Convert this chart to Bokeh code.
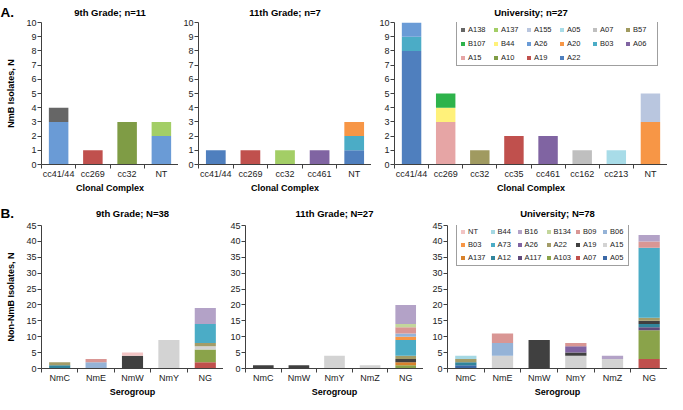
from bokeh.plotting import figure
from bokeh.models import (ColumnDataSource, Range1d, FixedTicker, Title,
                          SingleIntervalTicker, Legend, LegendItem)
from bokeh.layouts import column, row
from bokeh.embed import file_html
from bokeh.resources import INLINE

FONT = "Liberation Sans"
AXIS_COLOR = "#404040"
TEXT_COLOR = "#222222"

# ---------------- Panel A: NmB isolates by clonal complex ----------------
# stack order bottom -> top (legend shows the reverse)
a_stack = ["A22", "A19", "A10", "A15", "A06", "B03", "A20", "A26", "B44", "B107",
           "B57", "A07", "A05", "A155", "A137", "A138"]
a_colors = {"A22": "#4F7FBE", "A19": "#C0504D", "A10": "#7F9C45", "A15": "#E6A5A5",
            "A06": "#8064A2", "B03": "#4BACC6", "A20": "#F79646", "A26": "#6A9BD6",
            "B44": "#FFF17A", "B107": "#2EB34B", "B57": "#A09A60", "A07": "#BFBFBF",
            "A05": "#A8DCE8", "A155": "#B9C6DF", "A137": "#A3CE66", "A138": "#666666"}

a9_cats = ["cc41/44", "cc269", "cc32", "NT"]
a9_vals = {"A26": [3, 0, 0, 2], "A19": [0, 1, 0, 0], "A10": [0, 0, 3, 0],
           "A137": [0, 0, 0, 1], "A138": [1, 0, 0, 0]}

a11_cats = ["cc41/44", "cc269", "cc32", "cc461", "NT"]
a11_vals = {"A22": [1, 0, 0, 0, 1], "A19": [0, 1, 0, 0, 0], "A137": [0, 0, 1, 0, 0],
            "A06": [0, 0, 0, 1, 0], "B03": [0, 0, 0, 0, 1], "A20": [0, 0, 0, 0, 1]}

au_cats = ["cc41/44", "cc269", "cc32", "cc35", "cc461", "cc162", "cc213", "NT"]
au_vals = {"A22": [8, 0, 0, 0, 0, 0, 0, 0], "B03": [1, 0, 0, 0, 0, 0, 0, 0],
           "A26": [1, 0, 0, 0, 0, 0, 0, 0], "A15": [0, 3, 0, 0, 0, 0, 0, 0],
           "B44": [0, 1, 0, 0, 0, 0, 0, 0], "B107": [0, 1, 0, 0, 0, 0, 0, 0],
           "B57": [0, 0, 1, 0, 0, 0, 0, 0], "A19": [0, 0, 0, 2, 0, 0, 0, 0],
           "A06": [0, 0, 0, 0, 2, 0, 0, 0], "A07": [0, 0, 0, 0, 0, 1, 0, 0],
           "A05": [0, 0, 0, 0, 0, 0, 1, 0], "A20": [0, 0, 0, 0, 0, 0, 0, 3],
           "A155": [0, 0, 0, 0, 0, 0, 0, 2]}

# ---------------- Panel B: non-NmB isolates by serogroup ----------------
b_stack = ["A05", "A07", "A103", "A117", "A12", "A137", "A15", "A19", "A22", "A26",
           "A73", "B03", "B06", "B09", "B134", "B16", "B44", "NT"]
b_colors = {"A05": "#3A68A6", "A07": "#C0504D", "A103": "#8AA34A", "A117": "#604A7B",
            "A12": "#31859C", "A137": "#D9822B", "A15": "#D3D3D3", "A19": "#404040",
            "A22": "#A39C68", "A26": "#8064A2", "A73": "#4BACC6", "B03": "#F79646",
            "B06": "#95B3D7", "B09": "#D99694", "B134": "#C3D69B", "B16": "#B3A2C7",
            "B44": "#A5D8E3", "NT": "#F2C4C4"}

b9_cats = ["NmC", "NmE", "NmW", "NmY", "NG"]
b9_vals = {"A12": [1, 0, 0, 0, 0], "A22": [1, 0, 0, 0, 1], "B06": [0, 2, 0, 0, 0],
           "B09": [0, 1, 0, 0, 0], "A19": [0, 0, 4, 0, 0], "NT": [0, 0, 1, 0, 0],
           "A15": [0, 0, 0, 9, 1], "A07": [0, 0, 0, 0, 2], "A103": [0, 0, 0, 0, 4],
           "A73": [0, 0, 0, 0, 6], "B16": [0, 0, 0, 0, 5]}

b11_cats = ["NmC", "NmW", "NmY", "NmZ", "NG"]
b11_vals = {"A19": [1, 1, 0, 0, 1], "A15": [0, 0, 4, 1, 0], "A103": [0, 0, 0, 0, 1],
            "A137": [0, 0, 0, 0, 1], "A22": [0, 0, 0, 0, 1], "A73": [0, 0, 0, 0, 5],
            "B03": [0, 0, 0, 0, 1], "B06": [0, 0, 0, 0, 1], "B09": [0, 0, 0, 0, 2],
            "B134": [0, 0, 0, 0, 1], "B16": [0, 0, 0, 0, 6]}

bu_cats = ["NmC", "NmE", "NmW", "NmY", "NmZ", "NG"]
bu_vals = {"A05": [1, 0, 0, 0, 0, 0], "A12": [1, 0, 0, 0, 0, 1], "A22": [1, 0, 0, 0, 0, 1],
           "B44": [1, 0, 0, 0, 0, 0], "A15": [0, 4, 0, 4, 3, 0], "B06": [0, 4, 0, 0, 0, 0],
           "B09": [0, 3, 0, 1, 0, 2], "A19": [0, 0, 9, 1, 0, 1], "A26": [0, 0, 0, 2, 0, 0],
           "B16": [0, 0, 0, 0, 1, 2], "A07": [0, 0, 0, 0, 0, 3], "A103": [0, 0, 0, 0, 0, 9],
           "A117": [0, 0, 0, 0, 0, 1], "A73": [0, 0, 0, 0, 0, 22]}

titles = ["9th Grade; n=11", "11th Grade; n=7", "University; n=27",
          "9th Grade; N=38", "11th Grade; N=27", "University; N=78"]
letters = ["A.", "B."]


def make_panel(cats, vals, stack, colors, ymax, ystep, title, xlabel, ylabel,
               lb, fw, tb, fh, bb, bar_w, title_standoff, letter=None, letter_standoff=0):
    n = len(cats)
    centers = [i + 0.5 for i in range(n)]          # category slots on the x scale
    data = {"x": centers, "cat": cats}
    for s in stack:
        data[s] = vals.get(s, [0] * n)
    src = ColumnDataSource(data)
    p = figure(x_range=Range1d(0, n), y_range=Range1d(0, ymax),
               frame_width=fw, frame_height=fh,
               min_border_left=lb, min_border_right=0, min_border_top=tb, min_border_bottom=bb,
               output_backend="svg", toolbar_location=None, title=title,
               background_fill_color="white", border_fill_color="white",
               outline_line_color=None)
    rends = p.vbar_stack(stack, x="x", width=bar_w, source=src,
                         fill_color=[colors[s] for s in stack], line_color=None)
    p.xgrid.visible = False
    p.ygrid.visible = False
    xa = p.below[0]
    ya = p.left[0]

    p.title.align = "center"
    p.title.text_font = FONT
    p.title.text_font_size = "9.5px"
    p.title.text_font_style = "bold"
    p.title.text_color = "black"
    p.title.standoff = title_standoff

    # panel letter (A. / B.): an extra zero-size title pushed to the far left
    if letter:
        p.add_layout(Title(text=letter, align="left", offset=-lb,
                           standoff=letter_standoff, vertical_align="top",
                           text_font=FONT, text_font_size="13.5px",
                           text_font_style="bold", text_color="black"), "above")

    ya.ticker = SingleIntervalTicker(interval=ystep, num_minor_ticks=0)
    ya.axis_line_color = AXIS_COLOR
    ya.major_tick_line_color = AXIS_COLOR
    ya.minor_tick_line_color = None
    ya.major_tick_out = 4
    ya.major_tick_in = 0
    ya.major_label_standoff = 1
    ya.major_label_text_font = FONT
    ya.major_label_text_font_size = "9px"
    ya.major_label_text_color = TEXT_COLOR
    if ylabel:
        ya.axis_label = ylabel
        ya.axis_label_text_font = FONT
        ya.axis_label_text_font_size = "9px"
        ya.axis_label_text_font_style = "bold"
        ya.axis_label_text_color = "black"
        ya.axis_label_standoff = 7

    xa.ticker = FixedTicker(ticks=centers, minor_ticks=list(range(n + 1)))
    xa.major_label_overrides = {c: lab for c, lab in zip(centers, cats)}
    xa.axis_line_color = AXIS_COLOR
    xa.major_tick_line_color = None
    xa.major_tick_out = 0
    xa.major_tick_in = 0
    xa.minor_tick_line_color = AXIS_COLOR
    xa.minor_tick_out = 4
    xa.minor_tick_in = 0
    xa.major_label_standoff = 0
    xa.major_label_text_font = FONT
    xa.major_label_text_font_size = "9px"
    xa.major_label_text_color = TEXT_COLOR
    xa.axis_label = xlabel
    xa.axis_label_text_font = FONT
    xa.axis_label_text_font_size = "9px"
    xa.axis_label_text_font_style = "bold"
    xa.axis_label_text_color = "black"
    xa.axis_label_standoff = 1
    return p, rends


def add_legend(p, stack, rends, loc, label_w, label_h, spacing):
    items = [LegendItem(label=s, renderers=[r]) for s, r in zip(stack, rends)][::-1]
    leg = Legend(items=items, location=loc, orientation="horizontal", ncols=6,
                 glyph_width=5, glyph_height=5, label_standoff=3,
                 label_width=label_w, label_height=label_h, spacing=spacing,
                 padding=3, margin=0,
                 label_text_font=FONT, label_text_font_size="7.5px",
                 label_text_color=TEXT_COLOR,
                 border_line_color=AXIS_COLOR, border_line_width=1,
                 background_fill_color="white", background_fill_alpha=1)
    p.add_layout(leg)


TOP_TB, TOP_FH, TOP_BB = 20, 142, 30
BOT_TB, BOT_FH, BOT_BB = 30, 143, 29

a1, _ = make_panel(a9_cats, a9_vals, a_stack, a_colors, 10, 1, titles[0], "Clonal Complex",
                   "NmB Isolates, N", 41, 137, TOP_TB, TOP_FH, TOP_BB, 0.57, 9,
                   letters[0], -36)
a2, _ = make_panel(a11_cats, a11_vals, a_stack, a_colors, 10, 1, titles[1], "Clonal Complex",
                   None, 20, 173, TOP_TB, TOP_FH, TOP_BB, 0.57, 9)
a3, a3r = make_panel(au_cats, au_vals, a_stack, a_colors, 10, 1, titles[2], "Clonal Complex",
                     None, 23, 273, TOP_TB, TOP_FH, TOP_BB, 0.57, 9)
add_legend(a3, a_stack, a3r, (62, 98), 21, 10, 4)

b1, _ = make_panel(b9_cats, b9_vals, b_stack, b_colors, 45, 5, titles[3], "Serogroup",
                   "Non-NmB Isolates, N", 41, 182, BOT_TB, BOT_FH, BOT_BB, 0.58, 14,
                   letters[1], -39)
b2, _ = make_panel(b11_cats, b11_vals, b_stack, b_colors, 45, 5, titles[4], "Serogroup",
                   None, 22, 178, BOT_TB, BOT_FH, BOT_BB, 0.58, 14)
b3, b3r = make_panel(bu_cats, bu_vals, b_stack, b_colors, 45, 5, titles[5], "Serogroup",
                     None, 24, 220, BOT_TB, BOT_FH, BOT_BB, 0.58, 14)
add_legend(b3, b_stack, b3r, (9, 102), 15, 9, 4)

layout = column(row(a1, a2, a3), row(b1, b2, b3))
open("out.html", "w").write(file_html(layout, INLINE))
